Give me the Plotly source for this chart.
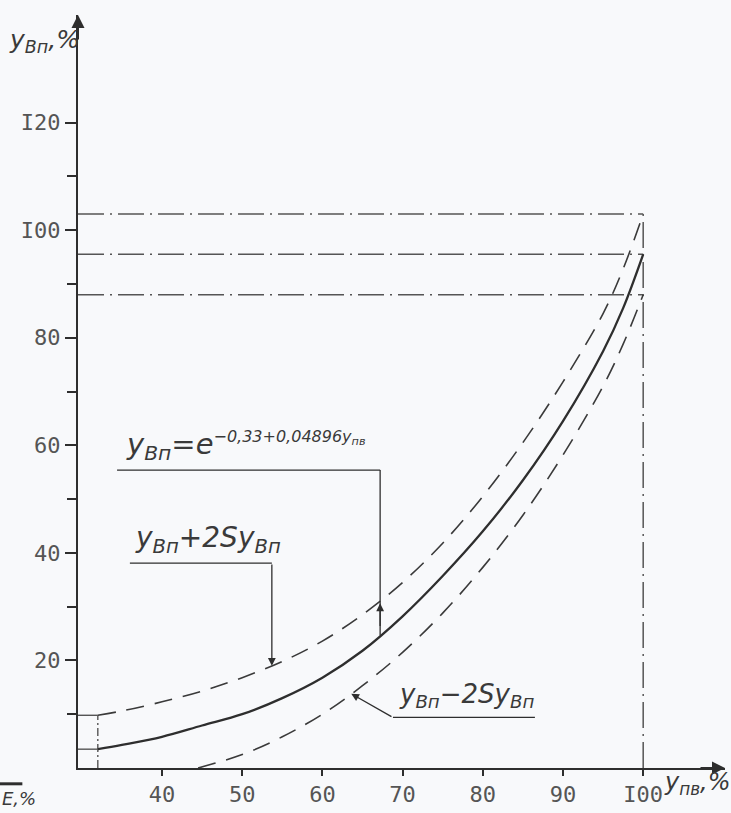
import numpy as np
import plotly.graph_objects as go

# ---- data ----
x_pv = [32, 35, 40, 45, 50, 55, 60, 65, 70, 75, 80, 85, 90, 95, 97.5, 100]
y_mean = [3.5, 4.3, 5.8, 7.9, 10.0, 13.0, 16.8, 21.8, 28.2, 35.7, 44.0, 53.5, 64.5, 77.5, 85.5, 95.5]
y_upper = [9.8, 10.6, 12.3, 14.3, 16.8, 19.8, 23.6, 28.5, 34.5, 41.8, 50.5, 60.5, 71.8, 84.5, 92.8, 103.0]
x_low = [44.5, 50, 55, 60, 65, 70, 75, 80, 85, 90, 95, 97.5, 100]
y_lower = [0.0, 2.5, 5.8, 10.0, 15.3, 21.5, 28.8, 37.3, 47.0, 58.2, 71.0, 78.8, 88.0]

x_ticks = [40, 50, 60, 70, 80, 90, 100]
x_ticktext = ["40", "50", "60", "70", "80", "90", "I00"]
y_ticks = [20, 40, 60, 80, 100, 120]
y_ticktext = ["20", "40", "60", "80", "I00", "I20"]
y_minor = [10, 30, 50, 70, 90, 110]

X0, X1 = 29.53, 110.2
Y0, Y1 = 0, 140

INK = "#2e2e2e"
TXT = "#3a3a3a"
DASHDOT = "26px,6px,2px,6px"
DASHED = "18px,11px"
HAND = "DejaVu Sans"

fig = go.Figure()

# reference dash-dot lines: levels of the three curves at the last point
levels = [y_upper[-1], y_mean[-1], y_lower[-1]]
x_end = x_pv[-1]
for lv in levels:
    fig.add_trace(go.Scatter(x=[X0, x_end], y=[lv, lv], mode="lines",
                             line=dict(color="#555", width=1.5, dash=DASHDOT),
                             hoverinfo="skip", showlegend=False))
fig.add_trace(go.Scatter(x=[x_end, x_end], y=[0, max(levels)], mode="lines",
                         line=dict(color="#555", width=1.5, dash=DASHDOT),
                         hoverinfo="skip", showlegend=False))
# start markers at the first point
x_start = x_pv[0]
fig.add_trace(go.Scatter(x=[x_start, x_start], y=[0, y_upper[0]], mode="lines",
                         line=dict(color="#555", width=1.4, dash="8px,3px,2px,3px"),
                         hoverinfo="skip", showlegend=False))
for lv in [y_upper[0], y_mean[0]]:
    fig.add_trace(go.Scatter(x=[X0, x_start], y=[lv, lv], mode="lines",
                             line=dict(color="#555", width=1.4),
                             hoverinfo="skip", showlegend=False))

# curves
fig.add_trace(go.Scatter(x=x_pv, y=y_upper, mode="lines", line_shape="spline",
                         line=dict(color="#3a3a3a", width=1.6, dash=DASHED),
                         showlegend=False))
fig.add_trace(go.Scatter(x=x_low, y=y_lower, mode="lines", line_shape="spline",
                         line=dict(color="#3a3a3a", width=1.6, dash=DASHED),
                         showlegend=False))
fig.add_trace(go.Scatter(x=x_pv, y=y_mean, mode="lines", line_shape="spline",
                         line=dict(color=INK, width=2.3),
                         showlegend=False))

ann = []
shapes = []

# formula label
fx0, fx1, fy = 34.4, 67.2, 55.4
shapes.append(dict(type="line", x0=fx0, x1=fx1, y0=fy, y1=fy, line=dict(color=INK, width=1.3)))
fy_end = float(np.interp(fx1, x_pv, y_mean))
shapes.append(dict(type="line", x0=fx1, x1=fx1, y0=fy, y1=fy_end, line=dict(color=INK, width=1.3)))
ann.append(dict(x=fx1, y=fy_end + 6, ax=fx1, ay=fy_end + 1.5, xref="x", yref="y", axref="x", ayref="y",
                text="", showarrow=True, arrowhead=2, arrowsize=1.2, arrowwidth=1.3, arrowcolor=INK))
ann.append(dict(x=35.3, y=fy + 0.6, xref="x", yref="y", xanchor="left", yanchor="bottom",
                text="<i>y<sub>Вп</sub>=e<sup><span style='font-size:16px'>−0,33+0,04896y<sub>пв</sub></span></sup></i>",
                showarrow=False, font=dict(family=HAND, size=29, color=TXT)))

# upper label
ux0, ux1, uy = 36.0, 53.7, 38.1
shapes.append(dict(type="line", x0=ux0, x1=ux1, y0=uy, y1=uy, line=dict(color=INK, width=1.3)))
uy_end = float(np.interp(ux1, x_pv, y_upper))
ann.append(dict(x=ux1, y=uy_end, ax=ux1, ay=uy, xref="x", yref="y", axref="x", ayref="y",
                text="", showarrow=True, arrowhead=2, arrowsize=1.2, arrowwidth=1.3, arrowcolor=INK))
ann.append(dict(x=36.4, y=uy + 0.6, xref="x", yref="y", xanchor="left", yanchor="bottom",
                text="<i>y<sub>Вп</sub>+2Sy<sub>Вп</sub></i>",
                showarrow=False, font=dict(family=HAND, size=28, color=TXT)))

# lower label
lx0, lx1, ly = 68.8, 86.5, 9.4
shapes.append(dict(type="line", x0=lx0, x1=lx1, y0=ly, y1=ly, line=dict(color=INK, width=1.3)))
lx_end = 63.6
ly_end = float(np.interp(lx_end, x_low, y_lower))
ann.append(dict(x=lx_end, y=ly_end, ax=lx0, ay=ly, xref="x", yref="y", axref="x", ayref="y",
                text="", showarrow=True, arrowhead=2, arrowsize=1.2, arrowwidth=1.3, arrowcolor=INK))
ann.append(dict(x=69.3, y=ly + 0.6, xref="x", yref="y", xanchor="left", yanchor="bottom",
                text="<i>y<sub>Вп</sub>−2Sy<sub>Вп</sub></i>",
                showarrow=False, font=dict(family=HAND, size=26, color=TXT)))

# axis arrows
ann.append(dict(x=X1, y=0, ax=-26, ay=0, xref="x", yref="y", text="", showarrow=True,
                arrowhead=2, arrowsize=1.3, arrowwidth=2, arrowcolor=INK))
ann.append(dict(x=X0, y=Y1, ax=0, ay=26, xref="x", yref="y", text="", showarrow=True,
                arrowhead=2, arrowsize=1.3, arrowwidth=2, arrowcolor=INK))

# axis titles
ann.append(dict(x=-0.11, y=0.966, xref="paper", yref="paper", xanchor="left", yanchor="middle",
                text="<i>y<sub>Вп</sub>,%</i>", showarrow=False,
                font=dict(family=HAND, size=25, color=TXT)))
ann.append(dict(x=0.902, y=-0.02, xref="paper", yref="paper", xanchor="left", yanchor="middle",
                text="<i>y<sub>пв</sub>,%</i>", showarrow=False,
                font=dict(family=HAND, size=24, color=TXT)))
ann.append(dict(x=-0.121, y=-0.04, xref="paper", yref="paper", xanchor="left", yanchor="middle",
                text="<i>E,%</i>", showarrow=False,
                font=dict(family=HAND, size=18, color=TXT)))
shapes.append(dict(type="line", xref="paper", yref="paper", x0=-0.121, x1=-0.086, y0=-0.021, y1=-0.021,
                   line=dict(color=INK, width=3)))

fig.update_layout(
    width=731, height=813,
    margin=dict(l=78, r=6, t=15, b=42),
    paper_bgcolor="#f8f9fb", plot_bgcolor="#f8f9fb",
    annotations=ann, shapes=shapes,
    showlegend=False,
    xaxis=dict(range=[X0, X1], tickvals=x_ticks, ticktext=x_ticktext,
               ticks="outside", ticklen=6, tickwidth=1.5, tickcolor=INK,
               showline=True, linewidth=2, linecolor=INK, showgrid=False, zeroline=False,
               tickfont=dict(family="DejaVu Sans Mono", size=22, color="#555")),
    yaxis=dict(range=[Y0, Y1], tickvals=y_ticks, ticktext=y_ticktext,
               ticks="outside", ticklen=11, tickwidth=1.5, tickcolor=INK,
               minor=dict(tickvals=y_minor, ticks="outside", ticklen=9, tickwidth=1.5, tickcolor=INK),
               showline=True, linewidth=2, linecolor=INK, showgrid=False, zeroline=False,
               tickfont=dict(family="DejaVu Sans Mono", size=22, color="#555")),
)

fig.write_html("out.html", config={"displayModeBar": False},
               post_script="document.body.style.margin='0';document.body.style.overflow='hidden';")
